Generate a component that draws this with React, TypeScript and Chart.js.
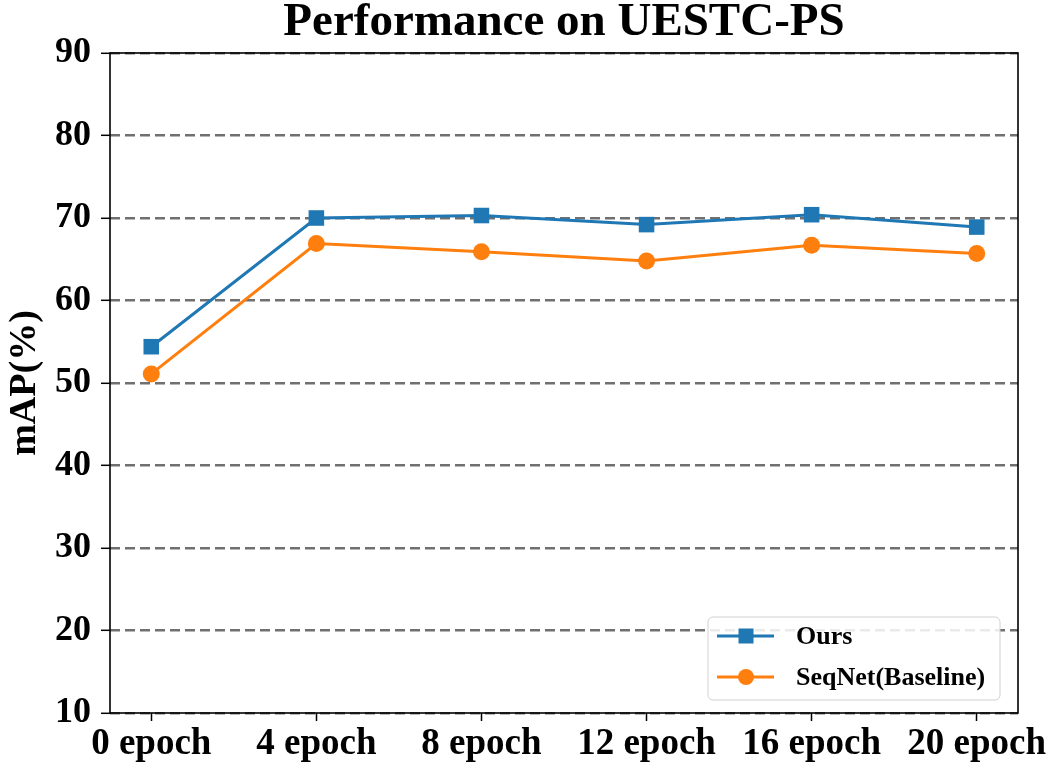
import React, { useEffect, useRef } from "react";
import { Chart, registerables } from "chart.js";

Chart.register(...registerables);

const categories = ["0 epoch", "4 epoch", "8 epoch", "12 epoch", "16 epoch", "20 epoch"];
const oursValues = [54.4, 70.0, 70.3, 69.2, 70.4, 68.9];
const seqNetValues = [51.1, 66.9, 65.9, 64.8, 66.7, 65.7];
const yTicks = [10, 20, 30, 40, 50, 60, 70, 80, 90];
const seriesNames = ["Ours", "SeqNet(Baseline)"];
const titleText = "Performance on UESTC-PS";
const yTitle = "mAP(%)";

const BLUE = "#1f77b4";
const ORANGE = "#ff7f0e";
const FONT = "'Liberation Serif', 'Times New Roman', serif";

const customPlugin = {
  id: "customDecor",
  afterDraw(chart: any) {
    const { ctx, chartArea } = chart;
    const { left, right, top, bottom } = chartArea;
    ctx.save();
    // frame
    ctx.setLineDash([]);
    ctx.strokeStyle = "#000";
    ctx.lineWidth = 1.6;
    ctx.strokeRect(left, top, right - left, bottom - top);
    // title
    ctx.fillStyle = "#000";
    ctx.font = `bold 47px ${FONT}`;
    ctx.textAlign = "center";
    ctx.textBaseline = "alphabetic";
    ctx.fillText(titleText, (left + right) / 2, 35);
    // y title
    ctx.save();
    ctx.translate(25, (top + bottom) / 2);
    ctx.rotate(-Math.PI / 2);
    ctx.font = `bold 38px ${FONT}`;
    ctx.textAlign = "center";
    ctx.textBaseline = "middle";
    ctx.fillText(yTitle, 0, 0);
    ctx.restore();
    // legend
    const lx = right - 310, ly = bottom - 96, lw = 292, lh = 83;
    ctx.beginPath();
    const r = 5;
    ctx.moveTo(lx + r, ly);
    ctx.arcTo(lx + lw, ly, lx + lw, ly + lh, r);
    ctx.arcTo(lx + lw, ly + lh, lx, ly + lh, r);
    ctx.arcTo(lx, ly + lh, lx, ly, r);
    ctx.arcTo(lx, ly, lx + lw, ly, r);
    ctx.closePath();
    ctx.fillStyle = "rgba(255,255,255,0.85)";
    ctx.fill();
    ctx.strokeStyle = "#d0d0d0";
    ctx.lineWidth = 1;
    ctx.stroke();
    const rows = [
      { name: seriesNames[0], color: BLUE, shape: "rect", y: ly + 19 },
      { name: seriesNames[1], color: ORANGE, shape: "circle", y: ly + 60 },
    ];
    rows.forEach((row) => {
      ctx.strokeStyle = row.color;
      ctx.lineWidth = 2.8;
      ctx.beginPath();
      ctx.moveTo(lx + 9, row.y);
      ctx.lineTo(lx + 66, row.y);
      ctx.stroke();
      ctx.fillStyle = row.color;
      if (row.shape === "rect") {
        ctx.fillRect(lx + 38 - 7.5, row.y - 7.5, 15, 15);
      } else {
        ctx.beginPath();
        ctx.arc(lx + 38, row.y, 8, 0, Math.PI * 2);
        ctx.fill();
      }
      ctx.fillStyle = "#000";
      ctx.font = `bold 26px ${FONT}`;
      ctx.textAlign = "left";
      ctx.textBaseline = "middle";
      ctx.fillText(row.name, lx + 88, row.y + 1);
    });
    ctx.restore();
  },
};

export default function App() {
  const canvasRef = useRef<HTMLCanvasElement | null>(null);

  useEffect(() => {
    const canvas = canvasRef.current;
    if (!canvas) return;
    const chart = new Chart(canvas, {
      type: "line",
      data: {
        datasets: [
          {
            label: seriesNames[0],
            data: oursValues.map((v, i) => ({ x: i, y: v })),
            borderColor: BLUE,
            backgroundColor: BLUE,
            borderWidth: 3,
            pointStyle: "rect",
            pointRadius: 11,
            pointBorderWidth: 0,
            tension: 0,
          },
          {
            label: seriesNames[1],
            data: seqNetValues.map((v, i) => ({ x: i, y: v })),
            borderColor: ORANGE,
            backgroundColor: ORANGE,
            borderWidth: 3,
            pointStyle: "circle",
            pointRadius: 8.5,
            pointBorderWidth: 0,
            tension: 0,
          },
        ],
      },
      options: {
        responsive: false,
        animation: false,
        layout: { padding: { top: 53, right: 32, left: 0, bottom: 0 } },
        plugins: {
          legend: { display: false },
          title: { display: false },
          tooltip: { enabled: false },
        },
        scales: {
          x: {
            type: "linear",
            min: -0.25,
            max: categories.length - 1 + 0.25,
            afterBuildTicks: (scale: any) => {
              scale.ticks = categories.map((_, i) => ({ value: i }));
            },
            afterFit: (scale: any) => {
              scale.height = 59;
            },
            ticks: {
              autoSkip: false,
              maxRotation: 0,
              minRotation: 0,
              padding: 1,
              color: "#000",
              font: { family: FONT, size: 37, weight: "bold" },
              callback: (v: any) => categories[Math.round(Number(v))] ?? "",
            },
            grid: {
              drawOnChartArea: false,
              drawTicks: true,
              tickLength: 8,
              tickColor: "#000",
              tickWidth: 1.5,
            },
            border: { display: false },
          },
          y: {
            type: "linear",
            min: 10,
            max: 90,
            afterBuildTicks: (scale: any) => {
              scale.ticks = yTicks.map((v) => ({ value: v }));
            },
            afterFit: (scale: any) => {
              scale.width = 110;
            },
            ticks: {
              padding: 10,
              color: "#000",
              font: { family: FONT, size: 36, weight: "bold" },
            },
            grid: {
              drawOnChartArea: true,
              drawTicks: true,
              tickLength: 9,
              color: "#707070",
              lineWidth: 2.6,
              tickColor: "#000",
              tickWidth: 1.5,
              tickBorderDash: [],
            },
            border: { display: false, dash: [10, 5] },
          },
        },
      },
      plugins: [customPlugin],
    } as any);
    return () => chart.destroy();
  }, []);

  return (
    <div style={{ position: "absolute", left: 0, top: 0, width: 1050, height: 772, background: "#fff" }}>
      <canvas ref={canvasRef} width={1050} height={772} style={{ display: "block" }} />
    </div>
  );
}
